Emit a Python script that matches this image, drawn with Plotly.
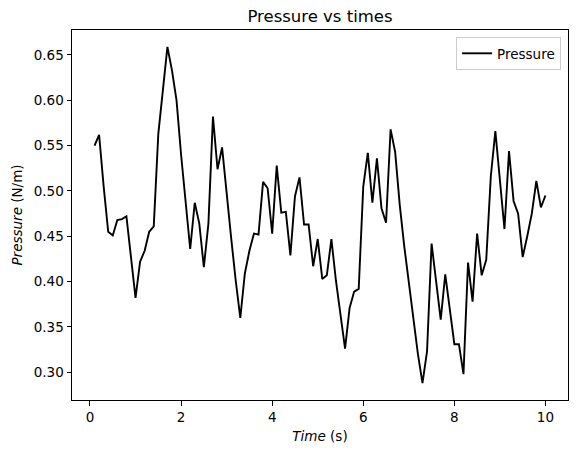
import plotly.graph_objects as go

times = [0.1, 0.2, 0.3, 0.4, 0.5, 0.6, 0.7, 0.8, 0.9, 1.0,
         1.1, 1.2, 1.3, 1.4, 1.5, 1.6, 1.7, 1.8, 1.9, 2.0,
         2.1, 2.2, 2.3, 2.4, 2.5, 2.6, 2.7, 2.8, 2.9, 3.0,
         3.1, 3.2, 3.3, 3.4, 3.5, 3.6, 3.7, 3.8, 3.9, 4.0,
         4.1, 4.2, 4.3, 4.4, 4.5, 4.6, 4.7, 4.8, 4.9, 5.0,
         5.1, 5.2, 5.3, 5.4, 5.5, 5.6, 5.7, 5.8, 5.9, 6.0,
         6.1, 6.2, 6.3, 6.4, 6.5, 6.6, 6.7, 6.8, 6.9, 7.0,
         7.1, 7.2, 7.3, 7.4, 7.5, 7.6, 7.7, 7.8, 7.9, 8.0,
         8.1, 8.2, 8.3, 8.4, 8.5, 8.6, 8.7, 8.8, 8.9, 9.0,
         9.1, 9.2, 9.3, 9.4, 9.5, 9.6, 9.7, 9.8, 9.9, 10.0]

pressure = [0.550, 0.562, 0.505, 0.455, 0.451, 0.468, 0.469, 0.472, 0.427, 0.382,
            0.422, 0.434, 0.455, 0.461, 0.563, 0.611, 0.659, 0.633, 0.600, 0.540,
            0.486, 0.436, 0.487, 0.464, 0.416, 0.464, 0.582, 0.524, 0.548, 0.495,
            0.448, 0.401, 0.360, 0.409, 0.434, 0.453, 0.452, 0.510, 0.503, 0.453,
            0.528, 0.476, 0.477, 0.429, 0.494, 0.515, 0.463, 0.463, 0.417, 0.447,
            0.403, 0.407, 0.447, 0.401, 0.361, 0.326, 0.371, 0.389, 0.392, 0.505,
            0.542, 0.487, 0.536, 0.481, 0.465, 0.568, 0.543, 0.485, 0.439, 0.399,
            0.359, 0.320, 0.288, 0.323, 0.442, 0.400, 0.358, 0.408, 0.370, 0.331,
            0.331, 0.298, 0.421, 0.378, 0.453, 0.407, 0.424, 0.516, 0.566, 0.508,
            0.458, 0.544, 0.489, 0.475, 0.427, 0.450, 0.475, 0.511, 0.482, 0.495]

x_ticks = [0, 2, 4, 6, 8, 10]
y_ticks = [0.30, 0.35, 0.40, 0.45, 0.50, 0.55, 0.60, 0.65]

font = "DejaVu Sans"
fs = 13.5

# the page body adds an 8px offset; size the figure to fill the rest
W, H = 570, 447
L, R, T, B = 64, 10, 22, 55

fig = go.Figure()
fig.add_trace(go.Scatter(x=times, y=pressure, mode="lines", name="Pressure",
                         line=dict(color="black", width=1.9)))

span_x = max(times) - min(times)
span_y = max(pressure) - min(pressure)

axis_common = dict(showline=True, linecolor="black", linewidth=1, mirror=True,
                   ticks="outside", ticklen=4.5, tickwidth=1, tickcolor="black",
                   showgrid=False, zeroline=False, automargin=False,
                   tickfont=dict(family=font, size=fs, color="black"))

fig.update_layout(
    width=W, height=H,
    margin=dict(l=L, r=R, t=T, b=B, autoexpand=False),
    paper_bgcolor="white", plot_bgcolor="white",
    font=dict(family=font, color="black"),
    title=dict(text="Pressure vs times", x=(L + (W - L - R) / 2) / W, xanchor="center",
               y=1 - 8 / H, yanchor="middle",
               font=dict(family=font, size=16.5, color="black")),
    xaxis=dict(range=[min(times) - 0.05 * span_x, max(times) + 0.05 * span_x],
               tickvals=x_ticks, ticktext=[str(v) for v in x_ticks],
               title=dict(text="<i>Time</i> (s)", standoff=7,
                          font=dict(family=font, size=fs, color="black")),
               **axis_common),
    yaxis=dict(range=[min(pressure) - 0.05 * span_y, max(pressure) + 0.05 * span_y],
               tickvals=y_ticks, ticktext=[f"{v:.2f}" for v in y_ticks],
               title=dict(text="<i>Pressure</i> (N/m)", standoff=8,
                          font=dict(family=font, size=fs, color="black")),
               **axis_common),
    showlegend=True,
    legend=dict(x=0.986, y=0.981, xanchor="right", yanchor="top",
                bordercolor="#cccccc", borderwidth=1, bgcolor="rgba(255,255,255,0.8)",
                font=dict(family=font, size=fs, color="black"),
                itemwidth=30, tracegroupgap=0),
)

fig.write_html("out.html")
